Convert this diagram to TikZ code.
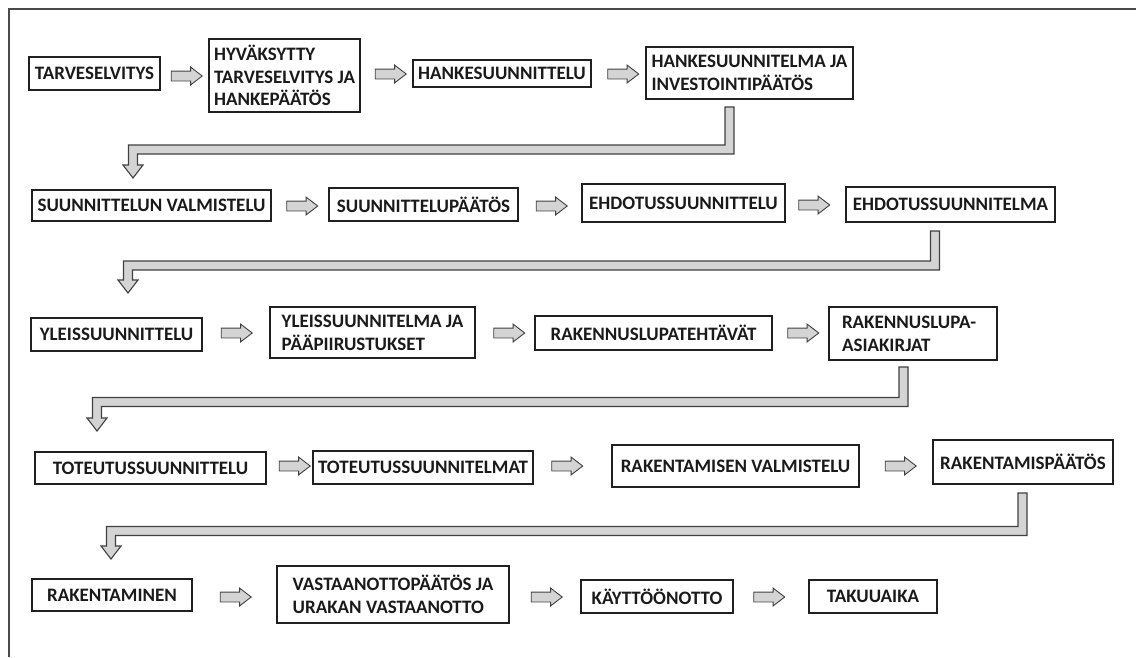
\documentclass[tikz,border=0pt]{standalone}
\usepackage{fontspec}
\setmainfont{Carlito}
\usetikzlibrary{shapes.arrows,calc}
\definecolor{boxline}{HTML}{202020}
\definecolor{arrfill}{HTML}{D4D4D4}
\definecolor{arrline}{HTML}{404040}
\definecolor{frameline}{HTML}{4A4A4A}
\definecolor{txt}{HTML}{1A1A1A}
\newcommand\elbowarrow[3]{%
  \filldraw[elbowsty] let \p1=(#1), \p2=(#2), \p3=(#3) in
    (\x1-4.5pt,\y1) -- (\x1+4.5pt,\y1) -- (\x1+4.5pt,\y2-4.5pt) --
    (\x3+4.5pt,\y2-4.5pt) -- (\x3+4.5pt,\y3+13pt) -- (\x3+10pt,\y3+13pt) --
    (\x3,\y3) -- (\x3-10pt,\y3+13pt) -- (\x3-4.5pt,\y3+13pt) --
    (\x3-4.5pt,\y2+4.5pt) -- (\x1-4.5pt,\y2+4.5pt) -- cycle;}
\tikzset{
  box/.style={draw=boxline, line width=1.1pt, inner sep=0pt, text=txt,
    font=\fontsize{19}{22.8}\selectfont\bfseries, align=center},
  lbox/.style={box, align=left},
  blockarrow/.style={single arrow, draw=arrline, fill=arrfill, line width=0.9pt,
    minimum width=17pt, minimum height=31pt, single arrow head extend=4pt,
    single arrow tip angle=75, inner xsep=0pt, inner ysep=4.5pt},
  elbowsty/.style={draw=arrline, fill=arrfill, line width=1.1pt, line join=miter},
  framesty/.style={draw=frameline, line width=1.6pt}
}
\begin{document}
\begin{tikzpicture}[x=1pt,y=-1pt]
\useasboundingbox (0,0) rectangle (1136,657);
\draw[framesty] (9,657) -- (9,9) -- (1136,9);
% row 1
\node[box, minimum width=131pt, minimum height=33pt] (b1) at (94.5,73.5) {TARVESELVITYS};
\node[lbox, minimum width=151pt, minimum height=73pt] (b2) at (284.5,75.5) {HYVÄKSYTTY\\TARVESELVITYS JA\\HANKEPÄÄTÖS};
\node[box, minimum width=178pt, minimum height=27pt] (b3) at (502,73.5) {HANKESUUNNITTELU};
\node[lbox, minimum width=207pt, minimum height=52pt] (b4) at (749.5,73) {HANKESUUNNITELMA JA\\INVESTOINTIPÄÄTÖS};
\node[blockarrow] (a1) at (183.5,76) {};
\node[blockarrow] (a2) at (387.5,74) {};
\node[blockarrow] (a3) at (620,74) {};
% row 2
\node[box, minimum width=239pt, minimum height=31pt] (b5) at (151.5,205.5) {SUUNNITTELUN VALMISTELU};
\node[box, minimum width=189pt, minimum height=33pt] (b6) at (423.5,204.5) {SUUNNITTELUPÄÄTÖS};
\node[box, minimum width=203pt, minimum height=38pt] (b7) at (683.5,203) {EHDOTUSSUUNNITTELU};
\node[box, minimum width=209pt, minimum height=35pt] (b8) at (950.5,204.5) {EHDOTUSSUUNNITELMA};
\node[blockarrow] (a4) at (299,206) {};
\node[blockarrow] (a5) at (548.5,206) {};
\node[blockarrow] (a6) at (811,205) {};
% row 3
\node[box, minimum width=171pt, minimum height=33pt] (b9) at (116.5,334.5) {YLEISSUUNNITTELU};
\node[lbox, minimum width=205pt, minimum height=51pt] (b10) at (372.5,332.5) {YLEISSUUNNITELMA JA\\PÄÄPIIRUSTUKSET};
\node[box, minimum width=237pt, minimum height=34pt] (b11) at (653.5,333) {RAKENNUSLUPATEHTÄVÄT};
\node[lbox, minimum width=168pt, minimum height=53pt, text width=142pt] (b12) at (913,333.5) {RAKENNUSLUPA-\\ASIAKIRJAT};
\node[blockarrow] (a7) at (233.5,333) {};
\node[blockarrow] (a8) at (506,333) {};
\node[blockarrow] (a9) at (800,333) {};
% row 4
\node[box, minimum width=231pt, minimum height=32pt] (b13) at (150.5,468) {TOTEUTUSSUUNNITTELU};
\node[box, minimum width=220pt, minimum height=33pt] (b14) at (423,467.5) {TOTEUTUSSUUNNITELMAT};
\node[box, minimum width=247pt, minimum height=42pt] (b15) at (735.5,466) {RAKENTAMISEN VALMISTELU};
\node[box, minimum width=180pt, minimum height=44pt] (b16) at (1023,462) {RAKENTAMISPÄÄTÖS};
\node[blockarrow] (a10) at (291.5,466) {};
\node[blockarrow] (a11) at (564,466) {};
\node[blockarrow] (a12) at (897.5,466) {};
% row 5
\node[box, minimum width=160pt, minimum height=32pt] (b17) at (112,595) {RAKENTAMINEN};
\node[lbox, minimum width=232pt, minimum height=57pt] (b18) at (393,594.5) {VASTAANOTTOPÄÄTÖS JA\\URAKAN VASTAANOTTO};
\node[box, minimum width=152pt, minimum height=33pt] (b19) at (657,596.5) {KÄYTTÖÖNOTTO};
\node[box, minimum width=128pt, minimum height=33pt] (b20) at (873,596.5) {TAKUUAIKA};
\node[blockarrow] (a13) at (232.5,597) {};
\node[blockarrow] (a14) at (543.5,597) {};
\node[blockarrow] (a15) at (766,597) {};
% elbow connectors
\coordinate (s1) at (729.5,107); \coordinate (c1) at (0,149.5); \coordinate (t1) at (133,178);
\coordinate (s2) at (935,231); \coordinate (c2) at (0,265.5); \coordinate (t2) at (128,293);
\coordinate (s3) at (903.5,367); \coordinate (c3) at (0,402); \coordinate (t3) at (97,431);
\coordinate (s4) at (1022.5,493); \coordinate (c4) at (0,531); \coordinate (t4) at (111,559);
\elbowarrow{s1}{c1}{t1}
\elbowarrow{s2}{c2}{t2}
\elbowarrow{s3}{c3}{t3}
\elbowarrow{s4}{c4}{t4}
\end{tikzpicture}
\end{document}
